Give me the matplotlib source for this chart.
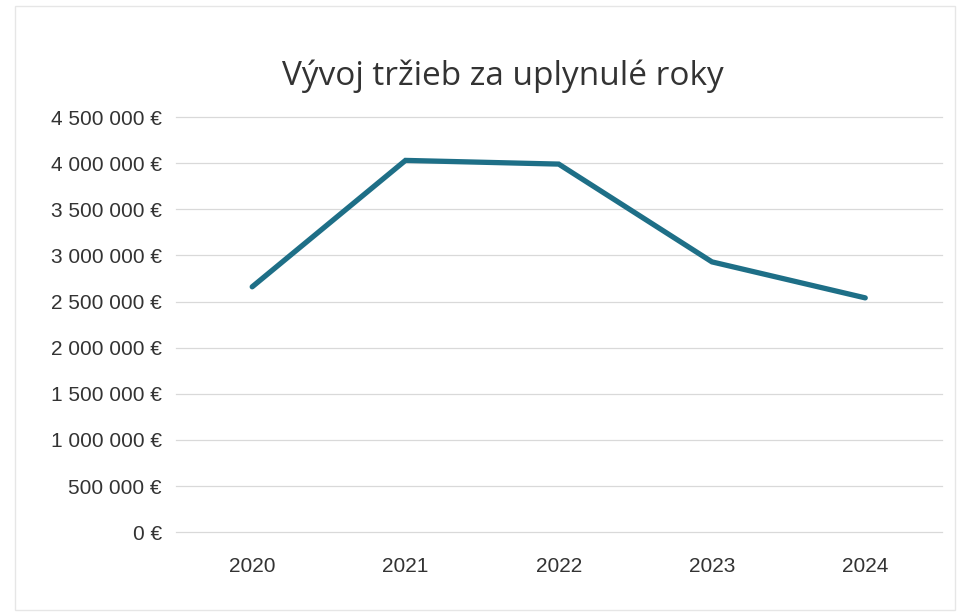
import matplotlib
matplotlib.use("Agg")
import matplotlib.pyplot as plt
from matplotlib.ticker import FuncFormatter, MultipleLocator

years = ["2020", "2021", "2022", "2023", "2024"]
revenue = [2660000, 4030000, 3990000, 2930000, 2540000]
title = "Vývoj tržieb za uplynulé roky"

plt.rcParams['font.family'] = ['Liberation Sans', 'DejaVu Sans']

fig = plt.figure(figsize=(9.7, 6.16), dpi=100)
ax = fig.add_axes([0.181, 0.136, 0.79, 0.674])

x = list(range(len(years)))
ax.plot(x, revenue, color="#1E6F87", linewidth=3.8, solid_joinstyle="miter",
        solid_capstyle="round", zorder=3)

ax.set_xlim(-0.5, len(years) - 0.5)
ax.set_ylim(0, 4500000)
ax.yaxis.set_major_locator(MultipleLocator(500000))
ax.set_xticks(x)
ax.set_xticklabels(years)

def fmt(v, pos):
    s = f"{int(round(v)):,}".replace(",", " ")
    return f"{s} €"

ax.yaxis.set_major_formatter(FuncFormatter(fmt))
ax.grid(axis="y", color="#d9d9d9", linewidth=0.9)
for gl in ax.get_ygridlines():
    gl.set_clip_on(False)
ax.set_axisbelow(True)
for s in ax.spines.values():
    s.set_visible(False)
ax.tick_params(axis="both", length=0, labelsize=15, colors="#333333")
ax.tick_params(axis="y", pad=10)
ax.tick_params(axis="x", pad=18)

fig.text(0.518, 0.877, title, ha="center", va="center", fontsize=24,
         color="#333333", family=["Open Sans", "DejaVu Sans"])

fig.patches.append(matplotlib.patches.Rectangle((0.015, 0.01), 0.97, 0.98,
                   transform=fig.transFigure, fill=False, edgecolor="#e6e6e6", linewidth=1))

fig.savefig("out.png", dpi=100)
